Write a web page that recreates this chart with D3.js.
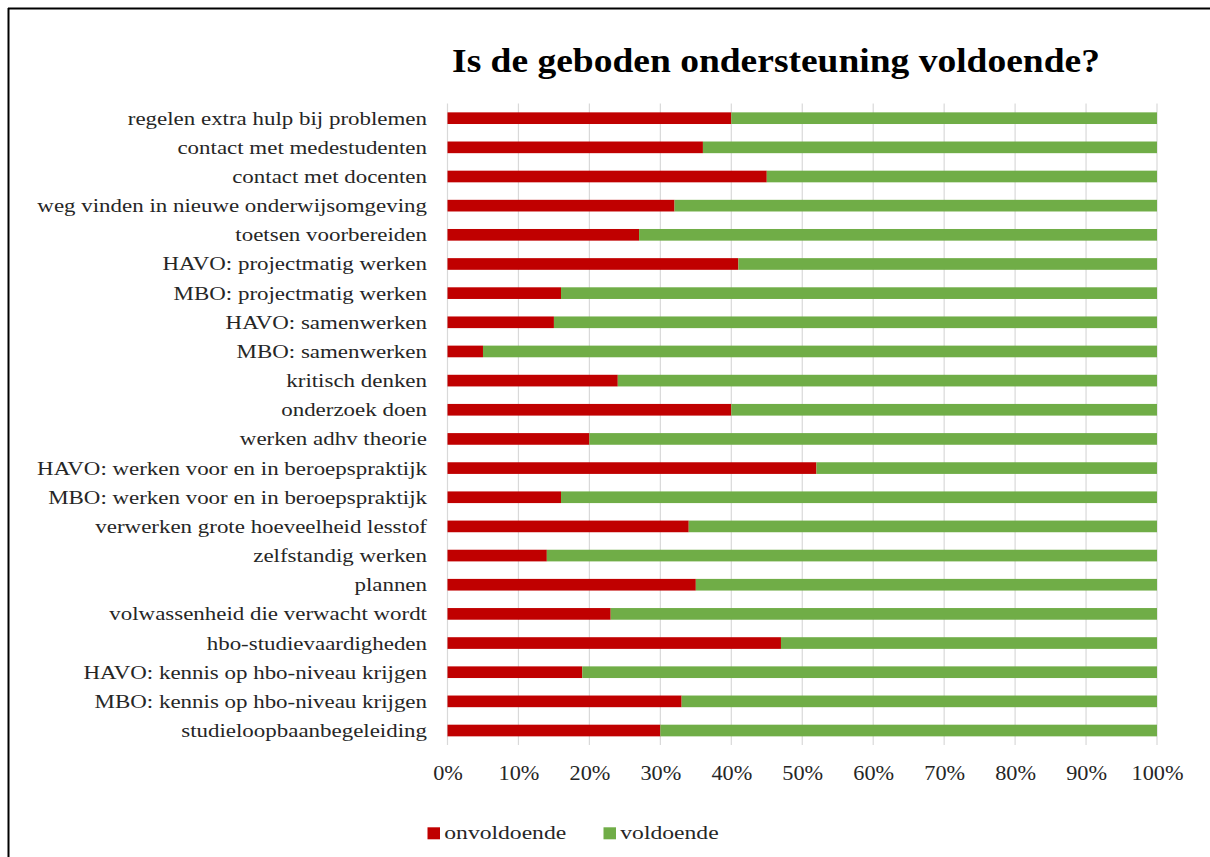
<!DOCTYPE html>
<html><head><meta charset="utf-8">
<script src="https://cdn.jsdelivr.net/npm/d3@7"></script>
<style>body{margin:0;background:#fff}svg{display:block}</style>
</head><body>
<svg id="c" width="1210" height="857"></svg>
<script>
const categories = [
  "regelen extra hulp bij problemen",
  "contact met medestudenten",
  "contact met docenten",
  "weg vinden in nieuwe onderwijsomgeving",
  "toetsen voorbereiden",
  "HAVO: projectmatig werken",
  "MBO: projectmatig werken",
  "HAVO: samenwerken",
  "MBO: samenwerken",
  "kritisch denken",
  "onderzoek doen",
  "werken adhv theorie",
  "HAVO: werken voor en in beroepspraktijk",
  "MBO: werken voor en in beroepspraktijk",
  "verwerken grote hoeveelheid lesstof",
  "zelfstandig werken",
  "plannen",
  "volwassenheid die verwacht wordt",
  "hbo-studievaardigheden",
  "HAVO: kennis op hbo-niveau krijgen",
  "MBO: kennis op hbo-niveau krijgen",
  "studieloopbaanbegeleiding"
];
const onvoldoende = [40,36,45,32,27,41,16,15,5,24,40,20,52,16,34,14,35,23,47,19,33,30];
const voldoende   = [60,64,55,68,73,59,84,85,95,76,60,80,48,84,66,86,65,77,53,81,67,70];
const seriesNames = ["onvoldoende","voldoende"];
const seriesColors = ["#C00000","#70AD47"];
const tickValues = [0,0.1,0.2,0.3,0.4,0.5,0.6,0.7,0.8,0.9,1];
const title = "Is de geboden ondersteuning voldoende?";

const svg = d3.select("#c");
const font = "'Liberation Serif','DejaVu Serif',serif";

// horizontally stretch text so the reference node reaches the target width
function stretch(sel, refNode, target, anchorX){
  const k = target / refNode.getComputedTextLength();
  sel.each(function(){
    const t = d3.select(this);
    const ax = anchorX != null ? anchorX : +t.attr("x");
    t.attr("transform", `translate(${ax},0) scale(${k},1) translate(${-ax},0)`);
  });
}

// frame
svg.append("line").attr("x1",8).attr("x2",1210).attr("y1",8.5).attr("y2",8.5).attr("stroke","#000").attr("stroke-width",2);
svg.append("line").attr("x1",8.5).attr("x2",8.5).attr("y1",8).attr("y2",857).attr("stroke","#000").attr("stroke-width",2);

const x = d3.scaleLinear().domain([0,1]).range([447.5,1157]);
const y = d3.scaleBand().domain(categories).range([103.6,745.1]).paddingInner(0.6).paddingOuter(0.3);

// gridlines
svg.append("g").selectAll("line").data(tickValues).join("line")
  .attr("x1",d=>x(d)).attr("x2",d=>x(d)).attr("y1",103.6).attr("y2",745.1)
  .attr("stroke","#d9d9d9").attr("stroke-width",1.2);

// stacked bars
const rows = categories.map((c,i)=>{
  const tot = onvoldoende[i]+voldoende[i];
  return {cat:c, vals:[onvoldoende[i]/tot, voldoende[i]/tot]};
});
const g = svg.append("g");
rows.forEach(r=>{
  let acc=0;
  r.vals.forEach((v,k)=>{
    g.append("rect").attr("x",x(acc)).attr("width",x(acc+v)-x(acc))
      .attr("y",y(r.cat)).attr("height",y.bandwidth())
      .attr("fill",seriesColors[k]);
    acc+=v;
  });
});

// category labels
const labels = svg.append("g").selectAll("text").data(categories).join("text")
  .attr("x",427).attr("y",d=>y(d)+y.bandwidth()/2+6.5)
  .attr("text-anchor","end")
  .attr("font-family",font).attr("font-size",19).attr("fill","#262626")
  .text(d=>d);
stretch(labels, labels.filter((d,i)=>i===3).node(), 390, 427);

// x tick labels
const xAxis = d3.axisBottom(x).tickValues(tickValues).tickFormat(d3.format(".0%")).tickSize(0).tickPadding(0);
const ax = svg.append("g").attr("transform","translate(0,780)").call(xAxis);
ax.select(".domain").remove();
const tl = ax.selectAll("text").attr("font-family",font).attr("font-size",20).attr("fill","#262626").attr("dy",0).attr("y",0);
{
  const k = 52 / tl.filter(d=>d===1).node().getComputedTextLength();
  tl.attr("transform", `scale(${k},1)`);
}

// title
const tt = svg.append("text").attr("x",776).attr("y",72.5).attr("text-anchor","middle")
  .attr("font-family",font).attr("font-weight","bold").attr("font-size",33).attr("fill","#000")
  .text(title);
stretch(tt, tt.node(), 648, 776);

// legend
const leg = svg.append("g");
const legX = [427.5, 603.5];
const legTexts = [];
seriesNames.forEach((n,i)=>{
  leg.append("rect").attr("x",legX[i]).attr("y",827.3).attr("width",12.5).attr("height",12).attr("fill",seriesColors[i]);
  legTexts.push(leg.append("text").attr("x",legX[i]+16.8).attr("y",839).attr("font-family",font).attr("font-size",19.5).attr("fill","#262626").text(n));
});
const lk = 122 / legTexts[0].node().getComputedTextLength();
legTexts.forEach(t=>{
  const ax0=+t.attr("x");
  t.attr("transform",`translate(${ax0},0) scale(${lk},1) translate(${-ax0},0)`);
});
</script>
</body></html>
